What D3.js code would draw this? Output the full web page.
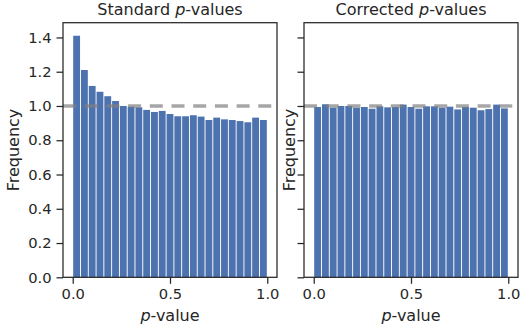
<!DOCTYPE html>
<html>
<head>
<meta charset="utf-8">
<script src="https://cdn.jsdelivr.net/npm/d3@7"></script>
<style>
  body { margin: 0; background: #fff; }
  text { font-family: "DejaVu Sans", sans-serif; fill: #262626; }
</style>
</head>
<body>
<svg id="chart" width="521" height="331"></svg>
<script>
// 25 bins of width 0.04 on [0, 1]; density values
const binEdges = d3.range(0, 25).map(i => i * 0.04);
const standardValues = [1.410, 1.210, 1.117, 1.083, 1.057, 1.029, 1.000, 0.996, 0.992, 0.977,
                        0.965, 0.971, 0.953, 0.940, 0.940, 0.946, 0.938, 0.918, 0.932, 0.922,
                        0.918, 0.912, 0.905, 0.932, 0.918];
const correctedValues = [0.994, 1.010, 0.990, 1.000, 1.000, 0.990, 0.994, 0.984, 0.998, 0.992,
                         0.994, 1.008, 0.994, 0.984, 0.998, 0.998, 0.990, 0.996, 0.980, 0.994,
                         0.990, 0.975, 0.982, 1.008, 0.986];
const xTicks = [0.0, 0.5, 1.0];
const yTicks = [0.0, 0.2, 0.4, 0.6, 0.8, 1.0, 1.2, 1.4];
const refLine = 1.0;
const panels = [
  { title: 'Standard', values: standardValues, x0: 63, showYLabels: true, yLabelX: 19 },
  { title: 'Corrected', values: correctedValues, x0: 304, showYLabels: false, yLabelX: 295 }
];

const svg = d3.select('#chart');
const axTop = 22.7, axBottom = 277.3, axW = 214;
const binW = 0.04;
const yMax = d3.max(standardValues) * 1.054;
const y = d3.scaleLinear().domain([0, yMax]).range([axBottom, axTop]);

panels.forEach(p => {
  const x = d3.scaleLinear().domain([-0.05, 1.05]).range([p.x0, p.x0 + axW]);
  const g = svg.append('g');

  // bars
  const pad = binW * 0.06;
  g.selectAll('rect.bar')
    .data(p.values).enter()
    .append('rect')
    .attr('class', 'bar')
    .attr('x', (d, i) => x(binEdges[i] + pad))
    .attr('width', (d, i) => x(binEdges[i] + binW - pad) - x(binEdges[i] + pad))
    .attr('y', d => y(d))
    .attr('height', d => y(0) - y(d))
    .attr('fill', '#4c72b0');

  // dashed reference at 1.0 (axhline)
  g.append('line')
    .attr('x1', x.range()[0]).attr('x2', x.range()[1])
    .attr('y1', y(refLine)).attr('y2', y(refLine))
    .attr('stroke', 'gray').attr('stroke-opacity', 0.7)
    .attr('stroke-width', 3.3)
    .attr('stroke-dasharray', '13,8.7');

  // frame
  g.append('rect')
    .attr('x', p.x0).attr('y', axTop)
    .attr('width', axW).attr('height', axBottom - axTop)
    .attr('fill', 'none').attr('stroke', '#262626').attr('stroke-width', 1.25);

  // axes
  const xAxis = d3.axisBottom(x).tickValues(xTicks).tickFormat(d3.format('.1f'))
    .tickSizeInner(6.5).tickSizeOuter(0).tickPadding(4);
  const gx = g.append('g').attr('transform', `translate(0,${axBottom})`).call(xAxis);
  const yAxis = d3.axisLeft(y).tickValues(yTicks)
    .tickFormat(p.showYLabels ? d3.format('.1f') : () => '')
    .tickSizeInner(6.5).tickSizeOuter(0).tickPadding(5);
  const gy = g.append('g').attr('transform', `translate(${p.x0},0)`).call(yAxis);
  [gx, gy].forEach(a => {
    a.select('.domain').remove();
    a.selectAll('.tick line').attr('stroke', '#262626').attr('stroke-width', 1.25);
    a.selectAll('.tick text').attr('font-size', '14.7px')
      .attr('font-family', '"DejaVu Sans", sans-serif').attr('fill', '#262626');
  });
  gx.selectAll('.tick text').attr('dy', '0.78em');

  // title
  const t = g.append('text')
    .attr('x', p.x0 + axW / 2).attr('y', 14.5)
    .attr('text-anchor', 'middle').attr('font-size', '16px');
  t.append('tspan').text(p.title + ' ');
  t.append('tspan').attr('font-style', 'italic').text('p');
  t.append('tspan').text('-values');

  // x label
  const xl = g.append('text')
    .attr('x', p.x0 + axW / 2).attr('y', 320.5)
    .attr('text-anchor', 'middle').attr('font-size', '16px');
  xl.append('tspan').attr('font-style', 'italic').text('p');
  xl.append('tspan').text('-value');

  // y label
  g.append('text')
    .attr('transform', `translate(${p.yLabelX},${(axTop + axBottom) / 2}) rotate(-90)`)
    .attr('text-anchor', 'middle').attr('font-size', '16px')
    .text('Frequency');
});
</script>
</body>
</html>
